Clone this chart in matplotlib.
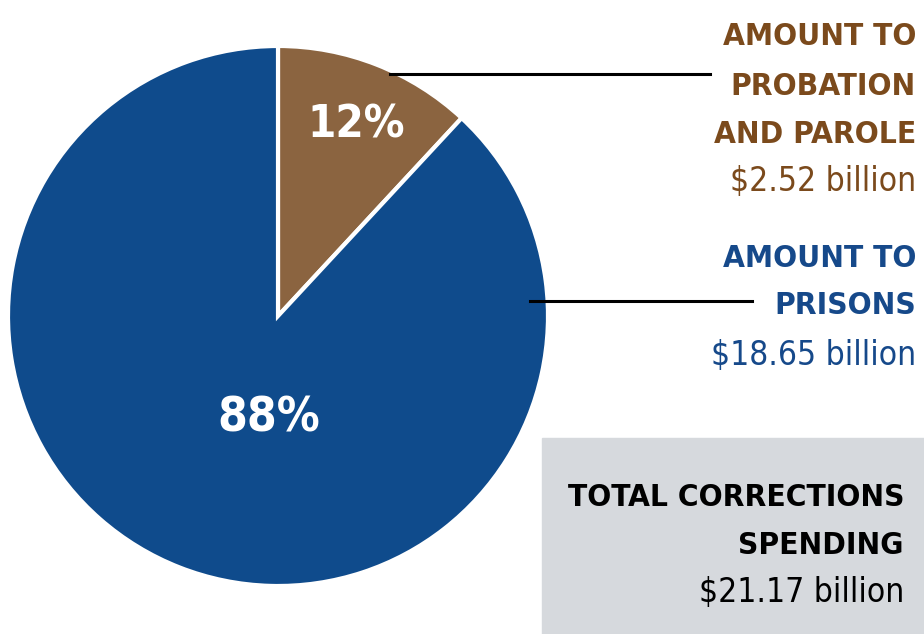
import matplotlib.pyplot as plt
from matplotlib import font_manager
from matplotlib.font_manager import FontProperties
from matplotlib.patches import Rectangle

# data
prob_lines = ["AMOUNT TO", "PROBATION", "AND PAROLE"]
prison_lines = ["AMOUNT TO", "PRISONS"]
total_lines = ["TOTAL CORRECTIONS", "SPENDING"]
amounts = [2.52, 18.65]  # billion $
pct_labels = ["12%", "88%"]
amount_labels = ["$2.52 billion", "$18.65 billion"]
total_amount = "$21.17 billion"

colors = ["#8b6440", "#0f4b8c"]
text_colors = ["#7b4a1c", "#16498a"]

# condensed faces, picked by file so the weight is right
cands = [f for f in font_manager.fontManager.ttflist
         if ("Narrow" in f.name or "Condensed" in f.name
             or "condensed" in str(f.stretch)) and f.style == "normal"]


def wnum(f):
    w = f.weight
    if isinstance(w, str):
        w = {"light": 300, "normal": 400, "regular": 400, "medium": 500,
             "semibold": 600, "bold": 700, "heavy": 800, "black": 900}.get(w, 400)
    return w


if cands:
    fb = min(cands, key=lambda f: abs(wnum(f) - 700))
    fr = min(cands, key=lambda f: abs(wnum(f) - 400))
    bold_fp = FontProperties(fname=fb.fname)
    reg_fp = FontProperties(fname=fr.fname)
else:
    bold_fp = FontProperties(family="Roboto", weight="bold")
    reg_fp = FontProperties(family="Roboto")

W, H = 924, 634
fig = plt.figure(figsize=(W / 100, H / 100), dpi=100)
ax = fig.add_axes([0, 0, 1, 1])

cx, cy, r = 278, H - 316, 270
ax.pie(amounts, colors=colors, center=(cx, cy), radius=r, startangle=90,
       counterclock=False, explode=[0.02, 0],
       wedgeprops=dict(edgecolor="white", linewidth=3))
ax.set_xlim(0, W)
ax.set_ylim(0, H)
ax.set_aspect("equal")
ax.axis("off")

renderer = fig.canvas.get_renderer()


def fit_size(s, fp, target_w):
    p = fp.copy()
    p.set_size(10)
    t = fig.text(0, 0, s, fontproperties=p)
    w = t.get_window_extent(renderer).width
    t.remove()
    return 10 * target_w / w


def sized(fp, size):
    p = fp.copy()
    p.set_size(size)
    return p


# percentage labels
ax.text(356, H - 137, pct_labels[0], color="white",
        fontproperties=sized(bold_fp, fit_size(pct_labels[0], bold_fp, 98)),
        ha="center", va="baseline")
ax.text(269, H - 431, pct_labels[1], color="white",
        fontproperties=sized(bold_fp, fit_size(pct_labels[1], bold_fp, 102)),
        ha="center", va="baseline")

# leader lines
ax.plot([390, 710], [H - 74, H - 74], color="black", lw=2.2)
ax.plot([530, 752], [H - 301, H - 301], color="black", lw=2.2)

# grey total box
ax.add_patch(Rectangle((542, 0), W - 542, H - 438, color="#d6d9dd", zorder=0))

head_fp = sized(bold_fp, min(fit_size("AND PAROLE", bold_fp, 206),
                             fit_size("TOTAL CORRECTIONS", bold_fp, 336)))
amt_fp = sized(reg_fp, fit_size("$18.65 billion", reg_fp, 204))


def block(x, lines, baselines, color, amt, amt_base):
    for s, b in zip(lines, baselines):
        ax.text(x, H - b, s, color=color, fontproperties=head_fp,
                ha="right", va="baseline")
    ax.text(x, H - amt_base, amt, color=color, fontproperties=amt_fp,
            ha="right", va="baseline")


block(916, prob_lines, [45, 95, 143], text_colors[0], amount_labels[0], 191)
block(916, prison_lines, [267, 314], text_colors[1], amount_labels[1], 365)
block(904, total_lines, [506, 554], "black", total_amount, 602)

fig.savefig("out.png", dpi=100)
